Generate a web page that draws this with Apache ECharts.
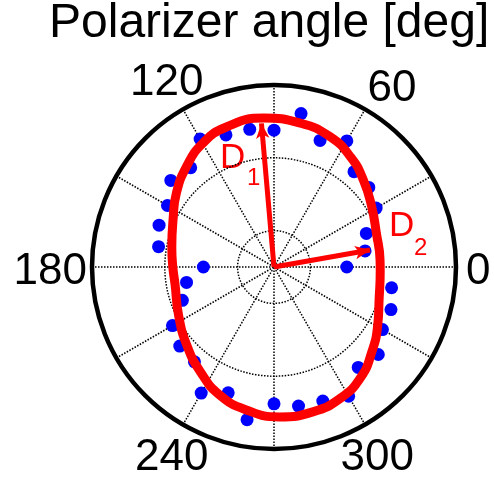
<!DOCTYPE html>
<html>
<head>
<meta charset="utf-8">
<script src="https://cdn.jsdelivr.net/npm/echarts@6/dist/echarts.min.js"></script>
<style>
html,body{margin:0;padding:0;background:#fff;}
#chart{width:494px;height:480px;}
</style>
</head>
<body>
<div id="chart"></div>
<script>
//measured points: polarizer angle (deg) and signal (radius)
var pointAngles = [0,10,20,30,40,50,60,70,80,90,100,110,120,130,140,150,160,170,
                   180,190,200,210,220,230,240,250,260,270,280,290,300,310,320,330,340,350];
var pointRadius = [1.00,1.27,1.35,1.62,1.70,1.71,2.00,1.85,2.14,1.88,1.92,1.93,2.03,1.78,1.85,1.69,1.68,1.61,
                   0.97,1.22,1.34,1.61,1.69,1.70,2.00,1.84,2.13,1.88,1.94,1.96,2.05,1.80,1.87,1.72,1.71,1.64];
//fitted curve (first and last repeat the ends to close the loop)
var fitAngles = [-2,4,18,32,44,55,67,80,94,109,120,131,143,155,169,180,190,207,222,235,247,259,272,285,297,308,319,331,343,358,364];
var fitRadius = [1.46,1.46,1.48,1.58,1.71,1.84,1.95,2.01,2.05,2.03,1.96,1.83,1.68,1.53,1.43,1.39,1.38,1.47,1.61,1.76,1.91,2.00,2.06,2.06,2.02,1.93,1.78,1.63,1.51,1.46,1.46];
//D1, D2 arrows
var arrowNames = ['D1', 'D2'];
var arrowAngles = [95, 10];
var arrowLengths = [1.98, 1.34];
//angle tick labels
var angleLabels = [0, 60, 120, 180, 240, 300];
var radiusMax = 2.5;

var chart = echarts.init(document.getElementById('chart'));
var font = '"Liberation Sans", Arial, sans-serif';

//points as [radius, angle]
var points = [];
for (var i = 0; i < pointAngles.length; i++) {
    points.push([pointRadius[i], pointAngles[i]]);
}
var fit = [];
for (var i = 0; i < fitAngles.length; i++) {
    fit.push([fitRadius[i], fitAngles[i]]);
}

//one line series per arrow, arrow head at the end
var arrowSeries = [];
for (var i = 0; i < arrowNames.length; i++) {
    arrowSeries.push({
        name: arrowNames[i],
        type: 'line',
        coordinateSystem: 'polar',
        silent: true,
        showSymbol: true,
        lineStyle: {color: '#ff0000', width: 5},
        itemStyle: {color: '#ff0000', opacity: 1},
        data: [
            {value: [0, arrowAngles[i]], symbol: 'none'},
            {value: [arrowLengths[i], arrowAngles[i]], symbol: 'arrow', symbolSize: [10, 15], symbolRotate: arrowAngles[i] - 90}
        ],
        z: 5
    });
}

//label nudges (padding: top, right, bottom, left)
var labelRich = {
    a0:   {padding: [10, 0, 0, 5]},
    a60:  {lineHeight: 33},
    a120: {padding: [0, -23, 0, 0]},
    a180: {padding: [10, 0, 0, 0]},
    a240: {padding: [7, -28, 0, 0]},
    a300: {padding: [7, 0, 0, -27]}
};

var option = {
    animation: false,
    title: {
        text: 'Polarizer angle [deg]',
        left: 49,
        top: 0,
        padding: 0,
        textStyle: {fontFamily: font, fontSize: 48, fontWeight: 'normal', color: '#000'}
    },
    polar: {center: [274, 267], radius: 182},
    angleAxis: {
        type: 'value',
        min: 0,
        max: 360,
        interval: 30,
        startAngle: 0,
        clockwise: false,
        axisLine: {lineStyle: {color: '#000', width: 4.5}},
        axisTick: {show: false},
        splitLine: {show: true, lineStyle: {color: '#000', width: 1.5, type: 'dotted'}},
        axisLabel: {
            margin: 5,
            fontFamily: font,
            fontSize: 44,
            color: '#000',
            formatter: function (v) {
                if (angleLabels.indexOf(v) < 0) return '';
                return '{a' + v + '|' + v + '}';
            },
            rich: labelRich
        }
    },
    radiusAxis: {
        type: 'value',
        min: 0,
        max: radiusMax,
        interval: 0.5,
        axisLine: {show: false},
        axisTick: {show: false},
        axisLabel: {show: false},
        //rings only at 0.5 and 1.5 (colors are used in turn)
        splitLine: {show: true, lineStyle: {color: ['rgba(0,0,0,0)', '#000'], width: 1.5, type: 'dotted'}}
    },
    series: [{
        name: 'measured',
        type: 'scatter',
        coordinateSystem: 'polar',
        symbolSize: 13,
        itemStyle: {color: '#0000ff', opacity: 1},
        data: points,
        z: 3
    }, {
        name: 'fit',
        type: 'line',
        coordinateSystem: 'polar',
        smooth: true,
        showSymbol: false,
        lineStyle: {color: '#ff0000', width: 9},
        data: fit,
        z: 4
    }].concat(arrowSeries),
    graphic: [
        {type: 'text', left: 220, top: 141, style: {text: 'D', fill: '#ff0000', font: '35px ' + font}},
        {type: 'text', left: 247, top: 166, style: {text: '1', fill: '#ff0000', font: '24px ' + font}},
        {type: 'text', left: 389, top: 209, style: {text: 'D', fill: '#ff0000', font: '35px ' + font}},
        {type: 'text', left: 414, top: 236, style: {text: '2', fill: '#ff0000', font: '24px ' + font}}
    ]
};
chart.setOption(option);
</script>
</body>
</html>
